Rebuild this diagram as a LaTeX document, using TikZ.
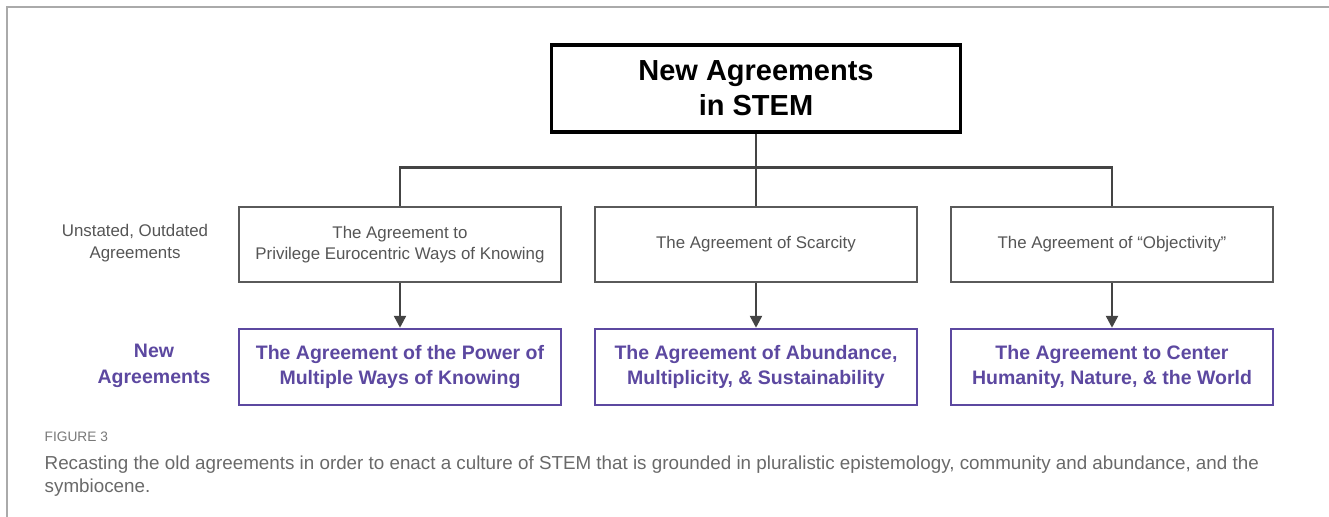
\documentclass[tikz,border=0pt]{standalone}
\usepackage{fontspec}
\setmainfont{Liberation Sans}
\usetikzlibrary{arrows.meta}

\begin{document}
\begin{tikzpicture}

	% Styles
	\tikzset{
		titlebox/.style={
			rectangle, draw=black, line width=1.9pt,
			minimum width=8.18cm, minimum height=1.74cm,
			align=center, text=black,
			font=\fontsize{16.5}{20}\selectfont\bfseries,
		},
		oldbox/.style={
			rectangle, draw=boxgray, line width=1.3pt,
			minimum width=6.44cm, minimum height=1.5cm,
			align=center, text=textgray,
			font=\fontsize{9.6}{12}\selectfont,
		},
		newbox/.style={
			rectangle, draw=agpurple, line width=1.4pt,
			minimum width=6.44cm, minimum height=1.52cm,
			align=center, text=agpurple,
			font=\fontsize{11.1}{14.2}\selectfont\bfseries,
		},
		conn/.style={
			draw=linegray, line width=1.6pt,
		},
		arrow/.style={
			draw=linegray, line width=1.4pt,
			-{Triangle[length=0.24cm, width=0.24cm]},
		}
	}

	% Colors
	\definecolor{agpurple}{RGB}{92,72,160}
	\definecolor{boxgray}{RGB}{90,90,90}
	\definecolor{textgray}{RGB}{85,85,85}
	\definecolor{linegray}{RGB}{68,68,68}
	\definecolor{framegray}{RGB}{170,170,170}
	\definecolor{capgray}{RGB}{105,105,105}

	% Page size and frame
	\useasboundingbox (0,0) rectangle (26.58,-10.34);
	\draw[framegray, line width=0.9pt] (26.58,-0.14) -- (0.14,-0.14) -- (0.14,-10.34);

	% Title box
	\node[titlebox] (newagr) at (15.12,-1.77) {New Agreements\\in STEM};

	% Row labels on the left
	\node[align=center, text=textgray, font=\fontsize{9.6}{12.4}\selectfont] (oldlabel) at (2.7,-4.86) {Unstated, Outdated\\Agreements};
	\node[align=center, text=agpurple, font=\fontsize{11.1}{14.6}\selectfont\bfseries] (newlabel) at (3.08,-7.32) {New\\Agreements};

	% Old agreements (gray row)
	\node[oldbox] (old1) at (8.0,-4.89) {The Agreement to\\Privilege Eurocentric Ways of Knowing};
	\node[oldbox] (old2) at (15.12,-4.89) {The Agreement of Scarcity};
	\node[oldbox] (old3) at (22.24,-4.89) {The Agreement of “Objectivity”};

	% New agreements (purple row)
	\node[newbox] (new1) at (8.0,-7.34) {The Agreement of the Power of\\Multiple Ways of Knowing};
	\node[newbox] (new2) at (15.12,-7.34) {The Agreement of Abundance,\\Multiplicity, \& Sustainability};
	\node[newbox] (new3) at (22.24,-7.34) {The Agreement to Center\\Humanity, Nature, \& the World};

	% Tree from the title down to the gray row
	\draw[conn] (newagr.south) -- (old2.north);
	\draw[conn] (old1.north) -- ++(0,0.76) -| (old3.north);

	% Arrows from old to new
	\draw[arrow] (old1.south) -- (new1.north);
	\draw[arrow] (old2.south) -- (new2.north);
	\draw[arrow] (old3.south) -- (new3.north);

	% Caption
	\node[anchor=west, text=capgray!90, font=\fontsize{7.8}{9}\selectfont] (figno) at (0.77,-8.74) {FIGURE 3};
	\node[anchor=north west, align=left, text=capgray, font=\fontsize{10.7}{13}\selectfont] (caption) at (0.77,-9.0) {Recasting the old agreements in order to enact a culture of STEM that is grounded in pluralistic epistemology, community and abundance, and the\\symbiocene.};

\end{tikzpicture}
\end{document}
